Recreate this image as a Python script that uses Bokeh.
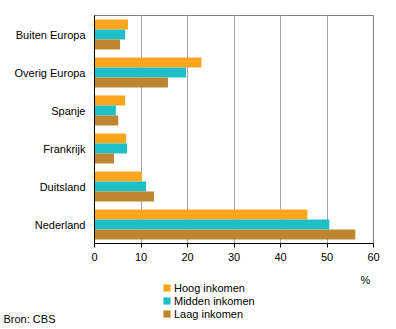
from bokeh.plotting import figure
from bokeh.models import ColumnDataSource, FactorRange, Range1d, Legend, LegendItem, Label, FixedTicker
from bokeh.layouts import column
from bokeh.transform import dodge
from bokeh.embed import file_html
from bokeh.resources import INLINE

countries = ["Buiten Europa", "Overig Europa", "Spanje", "Frankrijk", "Duitsland", "Nederland"]
hoog = [7.2, 23.0, 6.6, 6.8, 10.2, 45.8]
midden = [6.6, 19.7, 4.6, 7.0, 11.1, 50.5]
laag = [5.5, 15.8, 5.1, 4.2, 12.8, 56.1]
series_names = ["Hoog inkomen", "Midden inkomen", "Laag inkomen"]
colors = ["#F9A61E", "#1FBFC8", "#BE8630"]
x_ticks = [0, 10, 20, 30, 40, 50, 60]

FONT = "Liberation Sans"
MAIN_H = 265
FOOT_H = 329 - MAIN_H

src = ColumnDataSource(dict(country=countries, hoog=hoog, midden=midden, laag=laag))

p = figure(width=396, height=MAIN_H, output_backend="svg", toolbar_location=None,
           y_range=FactorRange(factors=list(reversed(countries)), range_padding=0),
           x_range=Range1d(0, 60), frame_align=False,
           min_border_left=94, min_border_right=23, min_border_top=15, min_border_bottom=22)

bh = 0.263
p.hbar(y=dodge("country", bh, range=p.y_range), left=0, right="hoog", height=bh,
       source=src, color=colors[0], line_color=None)
p.hbar(y=dodge("country", 0, range=p.y_range), left=0, right="midden", height=bh,
       source=src, color=colors[1], line_color=None)
p.hbar(y=dodge("country", -bh, range=p.y_range), left=0, right="laag", height=bh,
       source=src, color=colors[2], line_color=None)

p.outline_line_color = "#808080"
p.outline_line_width = 1
p.background_fill_color = "white"
p.border_fill_color = "white"

p.xgrid.grid_line_color = "#A6A6A6"
p.xgrid.ticker = FixedTicker(ticks=x_ticks)
p.ygrid.grid_line_color = None

xa = p.xaxis[0]
xa.ticker = FixedTicker(ticks=x_ticks)
xa.axis_line_color = "black"
xa.major_tick_line_color = "black"
xa.major_tick_out = 4
xa.major_tick_in = 0
xa.minor_tick_line_color = None
xa.major_label_text_font = FONT
xa.major_label_text_font_size = "11px"
xa.major_label_text_color = "black"
xa.major_label_standoff = 5

ya = p.yaxis[0]
ya.axis_line_color = "black"
ya.major_tick_line_color = None
ya.major_tick_out = 0
ya.major_tick_in = 0
ya.minor_tick_line_color = None
ya.major_label_text_font = FONT
ya.major_label_text_font_size = "11px"
ya.major_label_text_color = "black"
ya.major_label_standoff = 9

# footer: legend, unit and source (coordinates = canvas pixels)
f = figure(width=396, height=FOOT_H, output_backend="svg", toolbar_location=None,
           x_range=Range1d(0, 396), y_range=Range1d(329, MAIN_H), frame_align=False,
           min_border=0, outline_line_color=None)
f.axis.visible = False
f.grid.visible = False
# zero-size swatch renderers, used only for the legend glyphs
swatch = ColumnDataSource(dict(y=[0], left=[0], right=[0]))
rs = [f.hbar(y="y", right="right", left="left", height=0, source=swatch, color=c, line_color=None)
      for c in colors]
legend = Legend(items=[LegendItem(label=n, renderers=[r]) for n, r in zip(series_names, rs)],
                location=(162, 9), orientation="vertical",
                glyph_width=9, glyph_height=9, label_height=13, spacing=0,
                padding=0, margin=0, border_line_color=None, background_fill_alpha=0,
                label_text_font=FONT, label_text_font_size="11px", label_standoff=3,
                label_text_color="black")
f.add_layout(legend, "center")
f.add_layout(Label(x=365, y=279, text="%", text_font=FONT, text_font_size="11px",
                   text_align="center", text_baseline="middle", text_color="black"))
f.add_layout(Label(x=3, y=318, text="Bron: CBS", text_font=FONT, text_font_size="11px",
                   text_align="left", text_baseline="middle", text_color="black"))

open("out.html", "w").write(file_html(column(p, f, spacing=0), INLINE))
